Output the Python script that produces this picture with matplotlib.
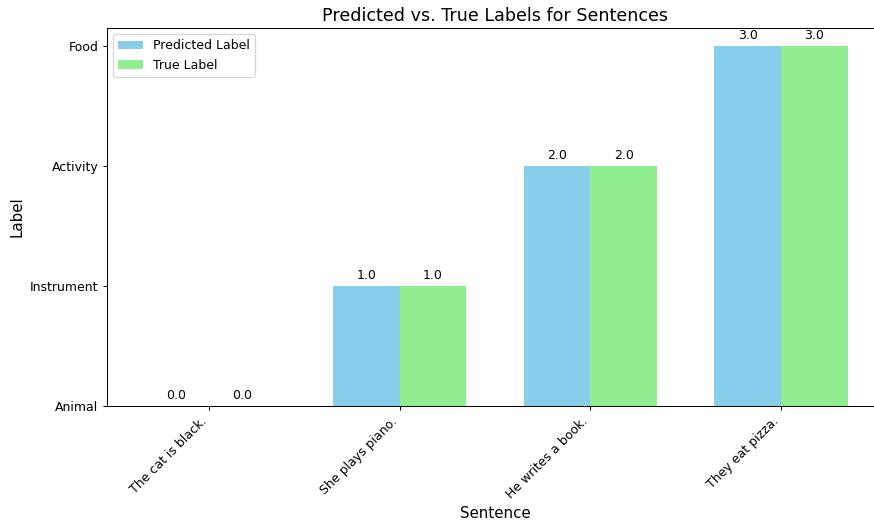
import numpy as np
import matplotlib.pyplot as plt

sentences = ["The cat is black.", "She plays piano.", "He writes a book.", "They eat pizza."]
label_names = ["Animal", "Instrument", "Activity", "Food"]
predicted = [0, 1, 2, 3]
true_labels = [0, 1, 2, 3]

x = np.arange(len(sentences))
width = 0.35

fig = plt.figure(figsize=(875 / 90, 521 / 90), dpi=90)
# the original image is cropped on the right, axes end just past the edge
ax = fig.add_axes([0.1223, 0.2207, 0.887, 0.7255])

bars1 = ax.bar(x - width / 2, predicted, width, label='Predicted Label', color='skyblue')
bars2 = ax.bar(x + width / 2, true_labels, width, label='True Label', color='lightgreen')

for bars in (bars1, bars2):
    for b in bars:
        h = b.get_height()
        ax.annotate('%.1f' % h, xy=(b.get_x() + b.get_width() / 2, h),
                    xytext=(0, 3), textcoords='offset points',
                    ha='center', va='bottom')

ax.spines['right'].set_visible(False)
ax.set_xlabel('Sentence', fontsize=12)
ax.set_ylabel('Label', fontsize=12)
ax.set_title('Predicted vs. True Labels for Sentences', fontsize=14)
ax.set_xticks(x)
ax.set_xticklabels(sentences, rotation=45, ha='right')
ax.set_yticks(range(len(label_names)))
ax.set_yticklabels(label_names)
ax.legend(loc='upper left')

fig.savefig('out.png', dpi=90)
